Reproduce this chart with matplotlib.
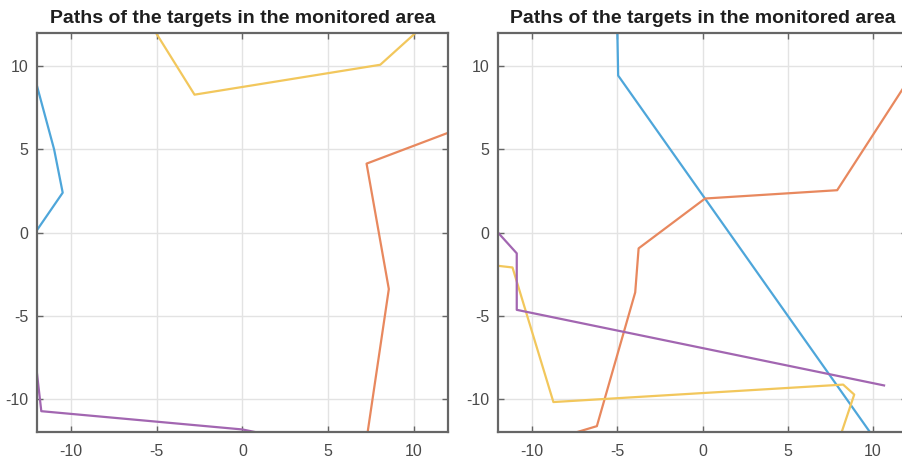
import matplotlib
matplotlib.use("Agg")
import matplotlib.pyplot as plt

plt.rcParams['font.family'] = ['Liberation Sans', 'DejaVu Sans']

# Target paths, scenario A (left panel)
a_blue_x = [-12.1, -11.0, -10.5, -12.1]
a_blue_y = [9.2, 5.0, 2.4, 0.0]
a_orange_x = [12.0, 7.25, 8.55, 7.3]
a_orange_y = [6.0, 4.15, -3.4, -12.1]
a_yellow_x = [-5.1, -2.8, 8.05, 10.2]
a_yellow_y = [12.1, 8.3, 10.1, 12.1]
a_purple_x = [-12.1, -11.75, 0.0, 0.95]
a_purple_y = [-7.6, -10.75, -11.85, -12.05]

# Target paths, scenario B (right panel)
b_blue_x = [-5.0, -4.95, 9.85]
b_blue_y = [12.2, 9.45, -12.05]
b_orange_x = [12.0, 7.9, 0.15, -3.75, -3.95, -6.2, -7.5]
b_orange_y = [9.05, 2.55, 2.05, -0.95, -3.6, -11.65, -12.05]
b_yellow_x = [-12.0, -11.15, -8.75, 8.25, 8.9, 8.15]
b_yellow_y = [-2.0, -2.1, -10.2, -9.15, -9.75, -12.05]
b_purple_x = [-12.0, -10.9, -10.9, 10.65]
b_purple_y = [0.0, -1.25, -4.65, -9.2]

ticks = [-10, -5, 0, 5, 10]
tick_labels = ['-10', '-5', '0', '5', '10']
title_text = 'Paths of the targets in the monitored area'

colors = {
    'blue': '#4ea6da',
    'orange': '#e8885e',
    'yellow': '#f2c75c',
    'purple': '#a266b1',
}

fig = plt.figure(figsize=(9.03, 4.61), dpi=100)
ax1 = fig.add_axes([0.041, 0.063, 0.455, 0.865])
ax2 = fig.add_axes([0.5515, 0.063, 0.453, 0.865])

panels = [
    (ax1, [(a_blue_x, a_blue_y, 'blue'), (a_orange_x, a_orange_y, 'orange'),
           (a_yellow_x, a_yellow_y, 'yellow'), (a_purple_x, a_purple_y, 'purple')]),
    (ax2, [(b_blue_x, b_blue_y, 'blue'), (b_orange_x, b_orange_y, 'orange'),
           (b_yellow_x, b_yellow_y, 'yellow'), (b_purple_x, b_purple_y, 'purple')]),
]

for ax, paths in panels:
    for xs, ys, c in paths:
        ax.plot(xs, ys, color=colors[c], lw=1.6, zorder=3)
    ax.set_xlim(-12, 12)
    ax.set_ylim(-12, 12)
    ax.set_xticks(ticks)
    ax.set_xticklabels(tick_labels)
    ax.set_yticks(ticks)
    ax.set_yticklabels(tick_labels)
    ax.grid(True, color='#e3e3e3', lw=1.0, zorder=0)
    ax.set_axisbelow(True)
    for s in ax.spines.values():
        s.set_color('#666666')
        s.set_linewidth(1.6)
        s.set_zorder(4)
    ax.tick_params(direction='in', length=4, width=1.0, colors='#666666',
                   labelcolor='#4a4a4a', labelsize=11.5,
                   top=True, right=True)
    ax.tick_params(axis='x', pad=9)
    ax.tick_params(axis='y', pad=6)
    ax.set_title(title_text, fontsize=14, fontweight='bold', color='#1e1e1e', pad=7)

fig.savefig('out.png', dpi=100)
